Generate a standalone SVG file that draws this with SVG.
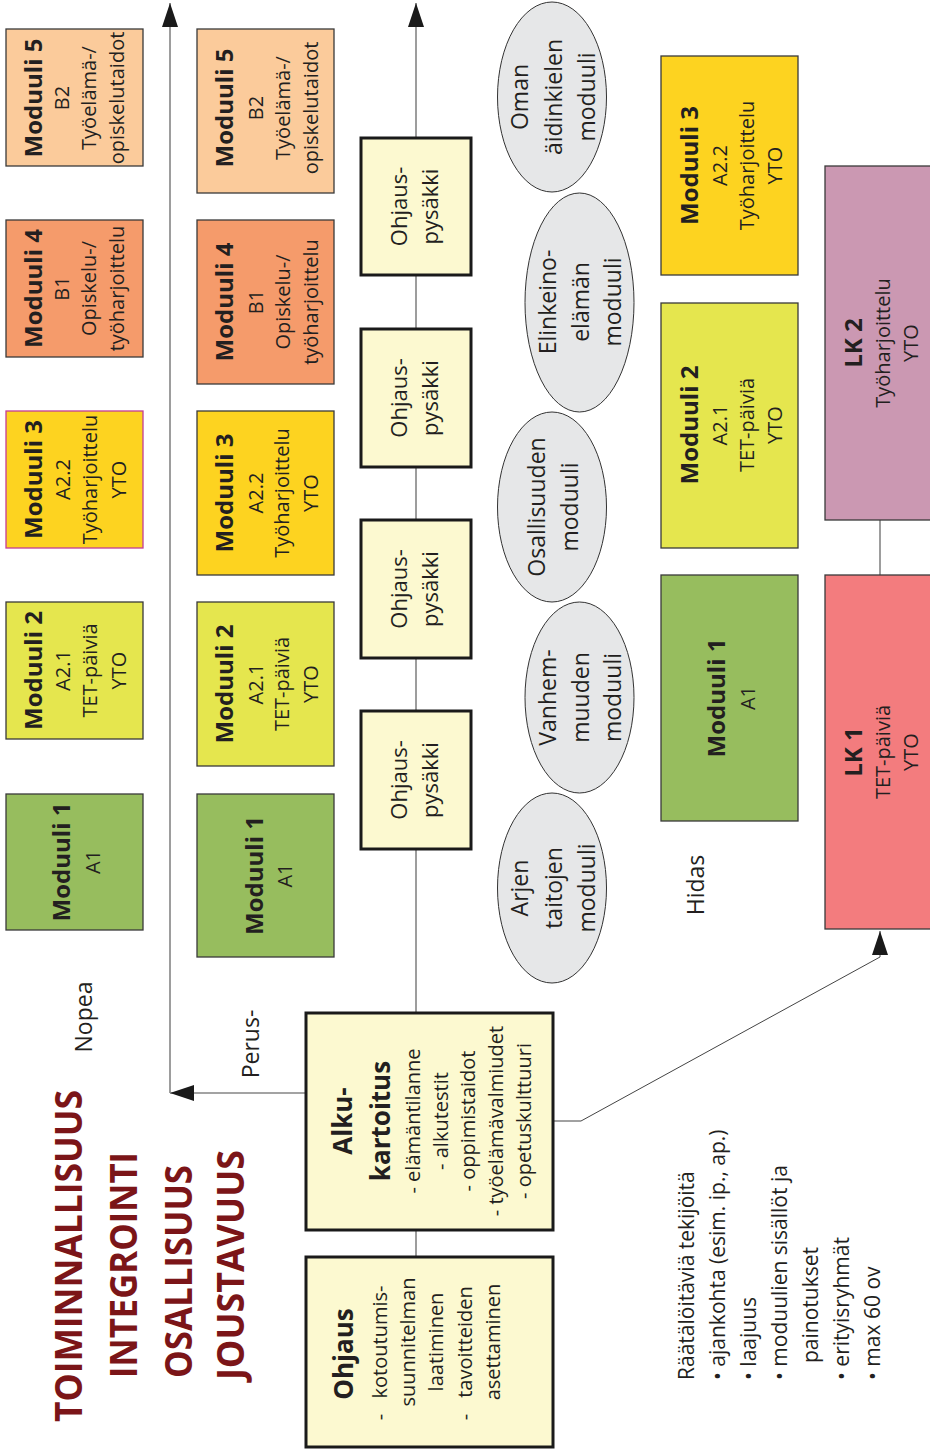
<svg xmlns="http://www.w3.org/2000/svg" width="930" height="1452" viewBox="0 0 930 1452">
  <style>
    text { font-family: "Open Sans", "Noto Sans", "Liberation Sans", sans-serif; fill: #231f20; }
    .b { font-weight: bold; font-size: 24px; text-anchor: middle; }
    .r { font-size: 20px; text-anchor: middle; }
    .m { font-size: 22px; text-anchor: middle; }
    .e { font-size: 23px; text-anchor: middle; }
    .lbl { font-size: 23px; text-anchor: middle; }
    .lst { font-size: 21px; }
    .ttl { font-weight: bold; font-size: 37px; fill: #7b1518; }
    .mod { stroke: #3a3a3a; stroke-width: 1.3; }
    .stop { fill: #fcf9d0; stroke: #1a1a1a; stroke-width: 3; }
    .oval { fill: #e6e7e8; stroke: #333; stroke-width: 1; }
    .axis { fill: none; stroke: #858585; stroke-width: 1.6; }
    .link { fill: none; stroke: #444; stroke-width: 1; }
    .m1 { fill: #97bd5e; }
    .m2 { fill: #e5e64e; }
    .m3 { fill: #fdd320; }
    .m4 { fill: #f59b6b; }
    .m5 { fill: #fbcb9b; }
  </style>
  <defs>
    <marker id="tri" markerUnits="userSpaceOnUse" markerWidth="24" markerHeight="16" refX="24" refY="8" orient="auto">
      <path d="M0,0 L24,8 L0,16 z" fill="#1a1a1a"/>
    </marker>
  </defs>

  <rect width="930" height="1452" fill="#ffffff"/>

  <!-- connectors -->
  <g id="connectors">
    <path class="axis" d="M306,1093 H170" marker-end="url(#tri)"/>
    <path class="axis" d="M170,1093 V3" marker-end="url(#tri)"/>
    <path class="axis" d="M416,1013 V3" marker-end="url(#tri)"/>
    <path class="axis" d="M416,1230 V1257"/>
    <path class="axis" d="M880,520 V575"/>
    <path class="link" d="M553,1121 H581 L880,957 V931" marker-end="url(#tri)"/>
  </g>

  <!-- title words -->
  <g id="titles">
    <text class="ttl" transform="translate(82,1422) rotate(-90)" textLength="332" lengthAdjust="spacingAndGlyphs">TOIMINNALLISUUS</text>
    <text class="ttl" transform="translate(137,1378) rotate(-90)" textLength="226" lengthAdjust="spacingAndGlyphs">INTEGROINTI</text>
    <text class="ttl" transform="translate(192,1378) rotate(-90)" textLength="213" lengthAdjust="spacingAndGlyphs">OSALLISUUS</text>
    <text class="ttl" transform="translate(244,1380) rotate(-90)" textLength="230" lengthAdjust="spacingAndGlyphs">JOUSTAVUUS</text>
  </g>

  <!-- pace labels -->
  <g id="labels">
    <text class="lbl" transform="translate(92,1017) rotate(-90)">Nopea</text>
    <text class="lbl" transform="translate(259,1044) rotate(-90)">Perus-</text>
    <text class="lbl" transform="translate(704,885) rotate(-90)">Hidas</text>
  </g>

  <!-- fast track modules -->
  <g id="nopea-m5">
    <rect class="mod m5" x="6" y="29" width="137" height="137"/>
    <text transform="translate(6,98) rotate(-90)"><tspan class="b" x="0" y="36">Moduuli 5</tspan><tspan class="r" x="0" y="63">B2</tspan><tspan class="r" x="0" y="90">Työelämä-/</tspan><tspan class="r" x="0" y="118">opiskelutaidot</tspan></text>
  </g>
  <g id="nopea-m4">
    <rect class="mod m4" x="6" y="220" width="137" height="137"/>
    <text transform="translate(6,288.5) rotate(-90)"><tspan class="b" x="0" y="36">Moduuli 4</tspan><tspan class="r" x="0" y="63">B1</tspan><tspan class="r" x="0" y="90">Opiskelu-/</tspan><tspan class="r" x="0" y="118">työharjoittelu</tspan></text>
  </g>
  <g id="nopea-m3">
    <rect class="m3" x="6" y="411" width="137" height="137" stroke="#c43c96" stroke-width="1.3"/>
    <text transform="translate(6,479.5) rotate(-90)"><tspan class="b" x="0" y="36">Moduuli 3</tspan><tspan class="r" x="0" y="64">A2.2</tspan><tspan class="r" x="0" y="91">Työharjoittelu</tspan><tspan class="r" x="0" y="120">YTO</tspan></text>
  </g>
  <g id="nopea-m2">
    <rect class="mod m2" x="6" y="602" width="137" height="137"/>
    <text transform="translate(6,670.5) rotate(-90)"><tspan class="b" x="0" y="36">Moduuli 2</tspan><tspan class="r" x="0" y="64">A2.1</tspan><tspan class="r" x="0" y="91">TET-päiviä</tspan><tspan class="r" x="0" y="120">YTO</tspan></text>
  </g>
  <g id="nopea-m1">
    <rect class="mod m1" x="6" y="794" width="137" height="136"/>
    <text transform="translate(6,862) rotate(-90)"><tspan class="b" x="0" y="64">Moduuli 1</tspan><tspan class="r" x="0" y="94">A1</tspan></text>
  </g>

  <!-- basic track modules -->
  <g id="perus-m5">
    <rect class="mod m5" x="197" y="29" width="137" height="164"/>
    <text transform="translate(197,108) rotate(-90)"><tspan class="b" x="0" y="36">Moduuli 5</tspan><tspan class="r" x="0" y="66">B2</tspan><tspan class="r" x="0" y="93">Työelämä-/</tspan><tspan class="r" x="0" y="121">opiskelutaidot</tspan></text>
  </g>
  <g id="perus-m4">
    <rect class="mod m4" x="197" y="220" width="137" height="164"/>
    <text transform="translate(197,302) rotate(-90)"><tspan class="b" x="0" y="36">Moduuli 4</tspan><tspan class="r" x="0" y="66">B1</tspan><tspan class="r" x="0" y="93">Opiskelu-/</tspan><tspan class="r" x="0" y="121">työharjoittelu</tspan></text>
  </g>
  <g id="perus-m3">
    <rect class="mod m3" x="197" y="411" width="137" height="164"/>
    <text transform="translate(197,493) rotate(-90)"><tspan class="b" x="0" y="36">Moduuli 3</tspan><tspan class="r" x="0" y="66">A2.2</tspan><tspan class="r" x="0" y="92">Työharjoittelu</tspan><tspan class="r" x="0" y="121">YTO</tspan></text>
  </g>
  <g id="perus-m2">
    <rect class="mod m2" x="197" y="602" width="137" height="164"/>
    <text transform="translate(197,684) rotate(-90)"><tspan class="b" x="0" y="36">Moduuli 2</tspan><tspan class="r" x="0" y="66">A2.1</tspan><tspan class="r" x="0" y="92">TET-päiviä</tspan><tspan class="r" x="0" y="121">YTO</tspan></text>
  </g>
  <g id="perus-m1">
    <rect class="mod m1" x="197" y="794" width="137" height="163"/>
    <text transform="translate(197,875.5) rotate(-90)"><tspan class="b" x="0" y="66">Moduuli 1</tspan><tspan class="r" x="0" y="95">A1</tspan></text>
  </g>

  <!-- guidance stops on the basic track -->
  <g id="stop-1">
    <rect class="stop" x="361" y="138" width="110" height="137"/>
    <text transform="translate(361,206.5) rotate(-90)"><tspan class="m" x="0" y="46">Ohjaus-</tspan><tspan class="m" x="0" y="77">pysäkki</tspan></text>
  </g>
  <g id="stop-2">
    <rect class="stop" x="361" y="329" width="110" height="138"/>
    <text transform="translate(361,398) rotate(-90)"><tspan class="m" x="0" y="46">Ohjaus-</tspan><tspan class="m" x="0" y="77">pysäkki</tspan></text>
  </g>
  <g id="stop-3">
    <rect class="stop" x="361" y="520" width="110" height="138"/>
    <text transform="translate(361,589) rotate(-90)"><tspan class="m" x="0" y="46">Ohjaus-</tspan><tspan class="m" x="0" y="77">pysäkki</tspan></text>
  </g>
  <g id="stop-4">
    <rect class="stop" x="361" y="711" width="110" height="138"/>
    <text transform="translate(361,780) rotate(-90)"><tspan class="m" x="0" y="46">Ohjaus-</tspan><tspan class="m" x="0" y="77">pysäkki</tspan></text>
  </g>

  <!-- optional modules -->
  <g id="oma-aidinkieli">
    <ellipse class="oval" cx="552" cy="97" rx="54.5" ry="95"/>
    <text transform="translate(552,97) rotate(-90)"><tspan class="e" x="0" y="-24">Oman</tspan><tspan class="e" x="0" y="10">äidinkielen</tspan><tspan class="e" x="0" y="43">moduuli</tspan></text>
  </g>
  <g id="elinkeinoelama">
    <ellipse class="oval" cx="579.5" cy="302.5" rx="54.5" ry="109.5"/>
    <text transform="translate(579.5,302) rotate(-90)"><tspan class="e" x="0" y="-23.5">Elinkeino-</tspan><tspan class="e" x="0" y="9.5">elämän</tspan><tspan class="e" x="0" y="41.5">moduuli</tspan></text>
  </g>
  <g id="osallisuus">
    <ellipse class="oval" cx="552" cy="507" rx="54.5" ry="95"/>
    <text transform="translate(552,507) rotate(-90)"><tspan class="e" x="0" y="-7">Osallisuuden</tspan><tspan class="e" x="0" y="26">moduuli</tspan></text>
  </g>
  <g id="vanhemmuus">
    <ellipse class="oval" cx="579.5" cy="697.5" rx="54.5" ry="95.5"/>
    <text transform="translate(579.5,697.5) rotate(-90)"><tspan class="e" x="0" y="-23.5">Vanhem-</tspan><tspan class="e" x="0" y="9.5">muuden</tspan><tspan class="e" x="0" y="41.5">moduuli</tspan></text>
  </g>
  <g id="arjen-taidot">
    <ellipse class="oval" cx="552" cy="888" rx="54.5" ry="95"/>
    <text transform="translate(552,888) rotate(-90)"><tspan class="e" x="0" y="-24">Arjen</tspan><tspan class="e" x="0" y="10">taitojen</tspan><tspan class="e" x="0" y="43">moduuli</tspan></text>
  </g>

  <!-- slow track modules -->
  <g id="hidas-m3">
    <rect class="mod m3" x="661" y="56" width="137" height="219"/>
    <text transform="translate(661,165.5) rotate(-90)"><tspan class="b" x="0" y="37">Moduuli 3</tspan><tspan class="r" x="0" y="66">A2.2</tspan><tspan class="r" x="0" y="93">Työharjoittelu</tspan><tspan class="r" x="0" y="121">YTO</tspan></text>
  </g>
  <g id="hidas-m2">
    <rect class="mod m2" x="661" y="303" width="137" height="245"/>
    <text transform="translate(661,425) rotate(-90)"><tspan class="b" x="0" y="37">Moduuli 2</tspan><tspan class="r" x="0" y="66">A2.1</tspan><tspan class="r" x="0" y="93">TET-päiviä</tspan><tspan class="r" x="0" y="121">YTO</tspan></text>
  </g>
  <g id="hidas-m1">
    <rect class="mod m1" x="661" y="575" width="137" height="246"/>
    <text transform="translate(661,698) rotate(-90)"><tspan class="b" x="0" y="64">Moduuli 1</tspan><tspan class="r" x="0" y="94">A1</tspan></text>
  </g>

  <!-- vocational preparation modules -->
  <g id="lk2">
    <rect class="mod" x="825" y="166" width="110" height="354" fill="#cb98b2"/>
    <text transform="translate(825,343) rotate(-90)"><tspan class="b" x="0" y="37">LK 2</tspan><tspan class="r" x="0" y="65">Työharjoittelu</tspan><tspan class="r" x="0" y="93">YTO</tspan></text>
  </g>
  <g id="lk1">
    <rect class="mod" x="825" y="575" width="110" height="354" fill="#f37c7e"/>
    <text transform="translate(825,752) rotate(-90)"><tspan class="b" x="0" y="37">LK 1</tspan><tspan class="r" x="0" y="65">TET-päiviä</tspan><tspan class="r" x="0" y="93">YTO</tspan></text>
  </g>

  <!-- initial assessment -->
  <g id="alkukartoitus">
    <rect class="stop" x="306" y="1013" width="247" height="217"/>
    <text transform="translate(0,1121) rotate(-90)"><tspan class="b" style="font-size:26px" x="0" y="352">Alku-</tspan><tspan class="b" style="font-size:26px" x="0" y="390">kartoitus</tspan><tspan class="r" x="0" y="420">- elämäntilanne</tspan><tspan class="r" x="0" y="448">- alkutestit</tspan><tspan class="r" x="0" y="475">- oppimistaidot</tspan><tspan class="r" x="0" y="503">- työelämävalmiudet</tspan><tspan class="r" x="0" y="531">- opetuskulttuuri</tspan></text>
  </g>

  <!-- guidance -->
  <g id="ohjaus">
    <rect class="stop" x="306" y="1257" width="247" height="190"/>
    <text transform="translate(0,1342) rotate(-90)"><tspan class="b" style="font-size:26px" x="-12" y="353">Ohjaus</tspan><tspan class="r" x="-75" y="387">-</tspan><tspan class="r" x="0" y="387">kotoutumis-</tspan><tspan class="r" x="0" y="415">suunnitelman</tspan><tspan class="r" x="0" y="443">laatiminen</tspan><tspan class="r" x="-75" y="472">-</tspan><tspan class="r" x="0" y="472">tavoitteiden</tspan><tspan class="r" x="0" y="500">asettaminen</tspan></text>
  </g>

  <!-- tailoring factors -->
  <g id="raataloitavat">
    <text class="lst" transform="translate(0,1380) rotate(-90)"><tspan x="0" y="694">Räätälöitäviä tekijöitä</tspan><tspan x="0" y="725">• ajankohta (esim. ip., ap.)</tspan><tspan x="0" y="756">• laajuus</tspan><tspan x="0" y="787">• moduulien sisällöt ja</tspan><tspan x="17" y="818">painotukset</tspan><tspan x="0" y="849">• erityisryhmät</tspan><tspan x="0" y="880">• max 60 ov</tspan></text>
  </g>
</svg>
